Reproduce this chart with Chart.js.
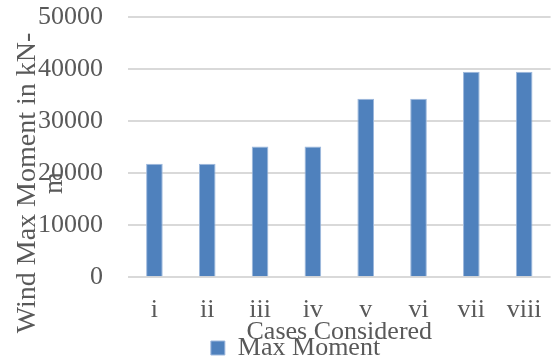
<!DOCTYPE html>
<html>
<head>
<meta charset="utf-8">
<script src="https://cdn.jsdelivr.net/npm/chart.js@4/dist/chart.umd.min.js"></script>
<style>
  html, body { margin: 0; padding: 0; background: #ffffff; }
  #wrap { width: 553px; height: 360px; position: relative; }
</style>
</head>
<body>
<div id="wrap"><canvas id="c"></canvas></div>
<script>
// Wind moment per load case
const cases = ['i', 'ii', 'iii', 'iv', 'v', 'vi', 'vii', 'viii'];
const maxMoment = [21800, 21800, 25100, 25100, 34300, 34300, 39500, 39500];
const yTicks = [0, 10000, 20000, 30000, 40000, 50000];
const yTitleLines = ['Wind Max Moment in kN-', 'm'];
const xTitle = 'Cases Considered';
const seriesName = 'Max Moment';

const FONT = "'Liberation Serif', 'Times New Roman', serif";
const TEXT = '#595959';

// Y-axis title drawn as two rotated lines that may overlap the tick labels
const yTitlePlugin = {
  id: 'yTitle',
  afterDraw(chart) {
    const ctx = chart.ctx;
    ctx.save();
    ctx.fillStyle = TEXT;
    ctx.font = '28px ' + FONT;
    ctx.textAlign = 'center';
    ctx.textBaseline = 'alphabetic';
    const cy = chart.height / 2 + 3;
    const baselines = [35, 62];
    yTitleLines.forEach((line, i) => {
      ctx.save();
      ctx.translate(baselines[i], cy);
      ctx.rotate(-Math.PI / 2);
      ctx.fillText(line, 0, 0);
      ctx.restore();
    });
    ctx.restore();
  }
};

new Chart(document.getElementById('c'), {
  type: 'bar',
  data: {
    labels: cases,
    datasets: [{
      label: seriesName,
      data: maxMoment,
      backgroundColor: '#4F81BD',
      borderColor: '#9DB8DD',
      borderWidth: 1,
      barPercentage: 0.315,
      categoryPercentage: 1.0
    }]
  },
  options: {
    responsive: true,
    maintainAspectRatio: false,
    animation: false,
    layout: { padding: { left: 38, right: 0, top: 17, bottom: -11 } },
    plugins: {
      legend: {
        position: 'bottom',
        labels: {
          color: TEXT,
          font: { family: FONT, size: 26, lineHeight: 1 },
          boxWidth: 14,
          boxHeight: 14,
          padding: 0
        }
      },
      tooltip: { enabled: false }
    },
    scales: {
      x: {
        grid: { display: false },
        border: { display: false },
        ticks: {
          color: TEXT,
          font: { family: FONT, size: 26, lineHeight: 1 },
          padding: 11.5,
          maxRotation: 0
        },
        title: {
          display: true,
          text: xTitle,
          color: TEXT,
          font: { family: FONT, size: 26, lineHeight: 0.8 },
          padding: { top: -12, bottom: -8 }
        }
      },
      y: {
        min: 0,
        max: 50000,
        afterBuildTicks(scale) {
          scale.ticks = yTicks.map(v => ({ value: v }));
        },
        afterFit(scale) {
          // tick labels may hang past the plot edges
          scale.paddingTop = 0;
          scale.paddingBottom = 0;
          scale.width = 90;
        },
        grid: { color: '#D9D9D9', lineWidth: 2, drawTicks: false },
        border: { display: false },
        ticks: {
          color: TEXT,
          font: { family: FONT, size: 26, lineHeight: 1 },
          padding: 25,
          callback: (v) => String(v)
        }
      }
    }
  },
  plugins: [yTitlePlugin]
});
</script>
</body>
</html>
